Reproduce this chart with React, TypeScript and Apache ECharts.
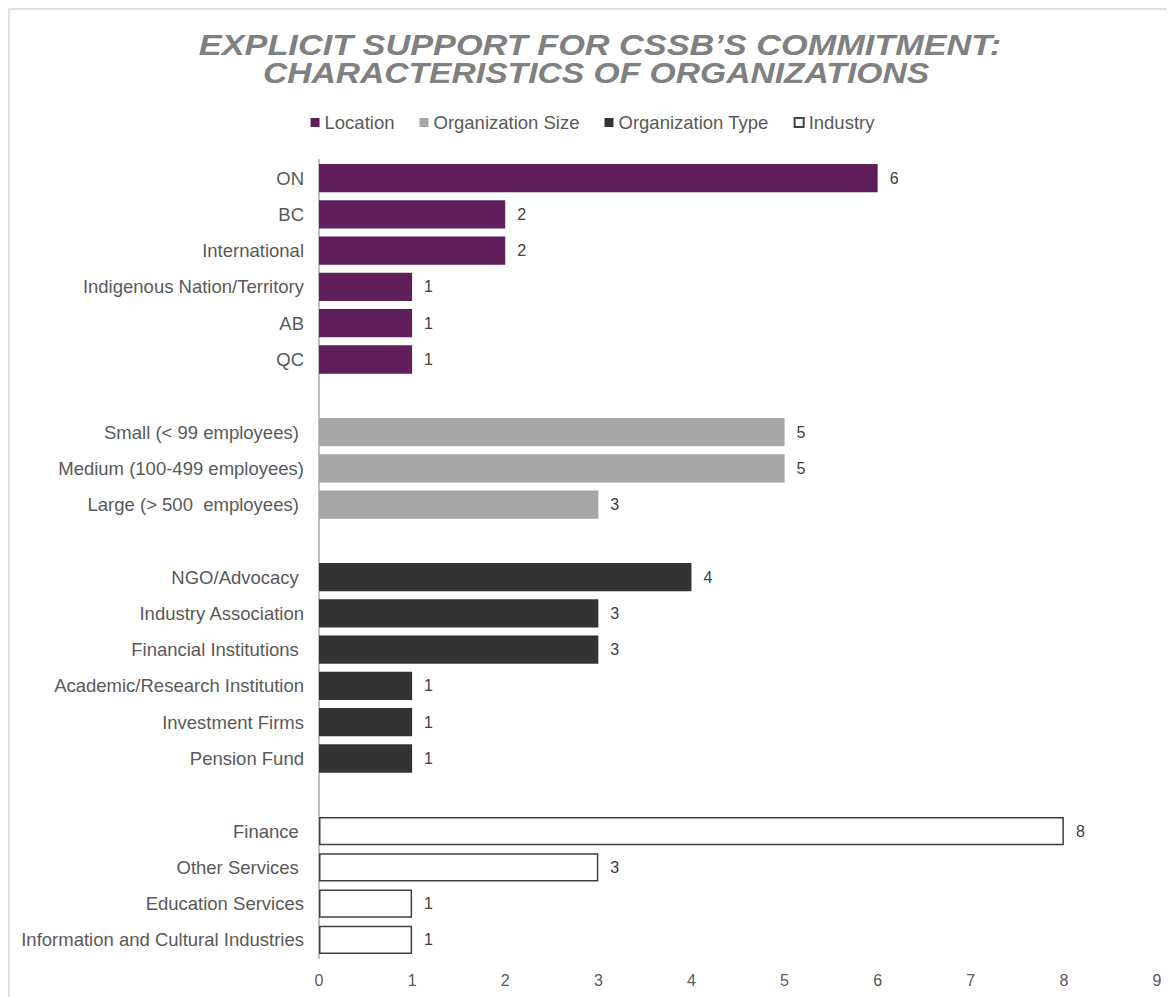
import React, { useEffect, useRef } from "react";
import * as echarts from "echarts";

const titleLines = ["EXPLICIT SUPPORT FOR CSSB\u2019S COMMITMENT:", "CHARACTERISTICS OF ORGANIZATIONS"];
const locationCats = ["ON", "BC", "International", "Indigenous Nation/Territory", "AB", "QC"];
const locationVals = [6, 2, 2, 1, 1, 1];
const sizeCats = ["Small (< 99 employees) ", "Medium (100-499 employees)", "Large (> 500  employees) "];
const sizeVals = [5, 5, 3];
const typeCats = [
  "NGO/Advocacy ",
  "Industry Association",
  "Financial Institutions ",
  "Academic/Research Institution",
  "Investment Firms",
  "Pension Fund",
];
const typeVals = [4, 3, 3, 1, 1, 1];
const industryCats = ["Finance ", "Other Services ", "Education Services", "Information and Cultural Industries"];
const industryVals = [8, 3, 1, 1];
const xTicks = [0, 1, 2, 3, 4, 5, 6, 7, 8, 9];

const groups = [
  { name: "Location", cats: locationCats, vals: locationVals },
  { name: "Organization Size", cats: sizeCats, vals: sizeVals },
  { name: "Organization Type", cats: typeCats, vals: typeVals },
  { name: "Industry", cats: industryCats, vals: industryVals },
];

export default function App() {
  const ref = useRef<HTMLDivElement>(null);
  useEffect(() => {
    if (!ref.current) return;
    const chart = echarts.init(ref.current, null, { renderer: "svg" });

    const categories: string[] = [];
    const groupIdx: number[][] = [];
    groups.forEach((g, gi) => {
      if (gi > 0) categories.push(" ".repeat(gi) + "\u200b");
      const idx: number[] = [];
      g.cats.forEach((c) => {
        idx.push(categories.length);
        categories.push(c);
      });
      groupIdx.push(idx);
    });

    const styles = [
      { color: "#5E1F5B" },
      { color: "#A6A6A6" },
      { color: "#333333" },
      { color: "#FFFFFF", borderColor: "#404040", borderWidth: 1.5 },
    ];

    const series = groups.map((g, gi) => {
      const data: (number | null)[] = categories.map(() => null);
      groupIdx[gi].forEach((ci, k) => {
        data[ci] = g.vals[k];
      });
      return {
        name: g.name,
        type: "bar",
        stack: "all",
        barWidth: "78%",
        data,
        itemStyle: styles[gi],
        label: {
          show: true,
          position: "right",
          distance: 12,
          color: "#404040",
          fontSize: 16,
          fontFamily: "Liberation Sans",
        },
      };
    });

    const titleStyle = {
      fill: "#808080",
      fontSize: 30,
      fontWeight: "bold",
      fontStyle: "italic",
      fontFamily: "Liberation Sans",
      align: "center",
      verticalAlign: "middle",
    };

    chart.setOption({
      animation: false,
      backgroundColor: "#ffffff",
      graphic: [
        { type: "text", x: 590, y: 35, scaleX: 1.143, style: { ...titleStyle, text: titleLines[0] } },
        { type: "text", x: 586, y: 63, scaleX: 1.121, style: { ...titleStyle, text: titleLines[1] } },
      ],
      legend: {
        top: 98,
        left: "center",
        itemWidth: 9,
        itemHeight: 9,
        itemGap: 25,
        icon: "rect",
        textStyle: { color: "#595959", fontSize: 18.5, fontFamily: "Liberation Sans" },
        data: groups.map((g) => g.name),
      },
      grid: { left: 309, right: 18, top: 150, bottom: 39, containLabel: false },
      xAxis: {
        type: "value",
        min: xTicks[0],
        max: xTicks[xTicks.length - 1],
        interval: 1,
        axisLine: { show: false },
        axisTick: { show: false },
        splitLine: { show: false },
        axisLabel: { color: "#595959", fontSize: 16, margin: 14, fontFamily: "Liberation Sans" },
      },
      yAxis: {
        type: "category",
        inverse: true,
        data: categories,
        axisLine: { show: true, lineStyle: { color: "#BFBFBF", width: 2 } },
        axisTick: { show: false },
        axisLabel: { color: "#595959", fontSize: 18.5, margin: 15, fontFamily: "Liberation Sans" },
      },
      series,
    });
    return () => chart.dispose();
  }, []);

  return (
    <div
      style={{
        width: 1165,
        height: 987,
        borderTop: "2px solid #E0E0E0",
        borderLeft: "2px solid #E0E0E0",
        overflow: "hidden",
      }}
    >
      <div ref={ref} style={{ width: 1165, height: 987 }} />
    </div>
  );
}
